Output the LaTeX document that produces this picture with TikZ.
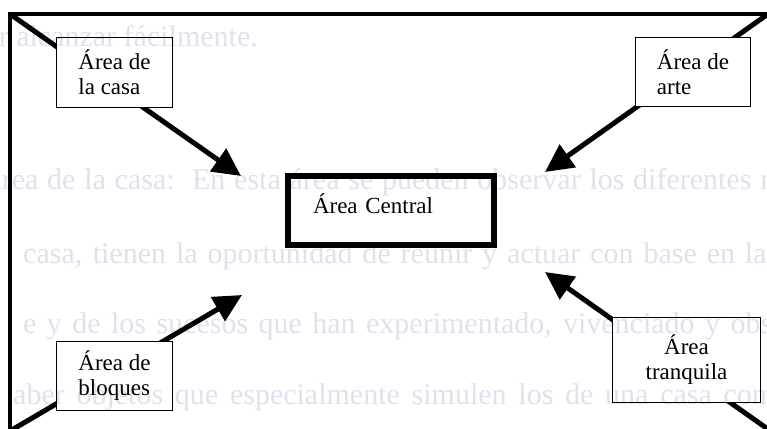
\documentclass[tikz,border=0pt]{standalone}
\usepackage{fontspec}
\setmainfont{Liberation Serif}
\usetikzlibrary{arrows.meta}
\definecolor{ghost}{RGB}{224,225,236}
\tikzset{
  frameline/.style={line width=3.5pt},
  diagarrow/.style={line width=5pt,-{Triangle[length=28pt,width=27pt]}},
  areabox/.style={draw,line width=1.3pt,inner sep=0pt,align=left,
    font=\fontsize{23}{25}\selectfont},
  centralbox/.style={draw,line width=6.5pt,inner sep=0pt,align=left,
    font=\fontsize{23}{25}\selectfont},
  ghosttext/.style={text=ghost,inner sep=0pt,anchor=base west,
    font=\fontsize{30}{30}\selectfont}
}
\begin{document}
\begin{tikzpicture}[x=1pt,y=-1pt]
\useasboundingbox[fill=white] (0,0) rectangle (767,428);
\clip (0,0) rectangle (767,428);
% faint show-through text (under everything)
\node[ghosttext,anchor=base east] (g1) at (258,46) {r alcanzar fácilmente.};
\node[ghosttext] (g2) at (-20,189) {\makebox[790pt][s]{Área de la casa:\ \ En esta área se pueden observar los diferentes r}};
\node[ghosttext] (g3) at (23,263) {\makebox[755pt][s]{casa, tienen la oportunidad de reunir y actuar con base en las}};
\node[ghosttext] (g4) at (23,333) {\makebox[749pt][s]{e y de los sucesos que han experimentado, vivenciado y obs}};
\node[ghosttext] (g5) at (13,404) {\makebox[762pt][s]{aber objetos que especialmente simulen los de una casa com}};
% boxes
\node[areabox,minimum width=116pt,minimum height=70pt] (casa) at (114.5,72.5) {Área de\\la casa};
\node[areabox,minimum width=115pt,minimum height=69pt] (arte) at (693,72) {Área de\\arte};
\node[areabox,minimum width=116pt,minimum height=69pt] (bloques) at (114.5,376) {Área de\\bloques};
\node[areabox,align=center,minimum width=148pt,minimum height=85pt] (tranquila) at (686.5,360) {Área\\tranquila};
\node[centralbox,minimum width=206pt,minimum height=69pt,text width=156pt,
  text height=17pt,text depth=12pt] (central) at (391,210.5) {Área Central};
% corners and arrow tips
\coordinate (cTL) at (10,14);
\coordinate (cTR) at (768,14);
\coordinate (cBL) at (10,431);
\coordinate (cBR) at (772,432);
\coordinate (tTL) at (241,176);
\coordinate (tTR) at (545,172);
\coordinate (tBL) at (242,295);
\coordinate (tBR) at (545,272);
% frame and arrows, hidden inside the small boxes
\begin{scope}[even odd rule]
\clip (-10,-10) rectangle (790,450)
  (casa.south west) rectangle (casa.north east)
  (arte.south west) rectangle (arte.north east)
  (bloques.south west) rectangle (bloques.north east)
  (tranquila.south west) rectangle (tranquila.north east);
\draw[frameline] (10,432) -- (10,14) -- (770,14) -- (770,432) -- cycle;
\draw[diagarrow] (cTL) -- (tTL);
\draw[diagarrow] (cTR) -- (tTR);
\draw[diagarrow] (cBL) -- (tBL);
\draw[diagarrow] (cBR) -- (tBR);
\end{scope}
\end{tikzpicture}
\end{document}
